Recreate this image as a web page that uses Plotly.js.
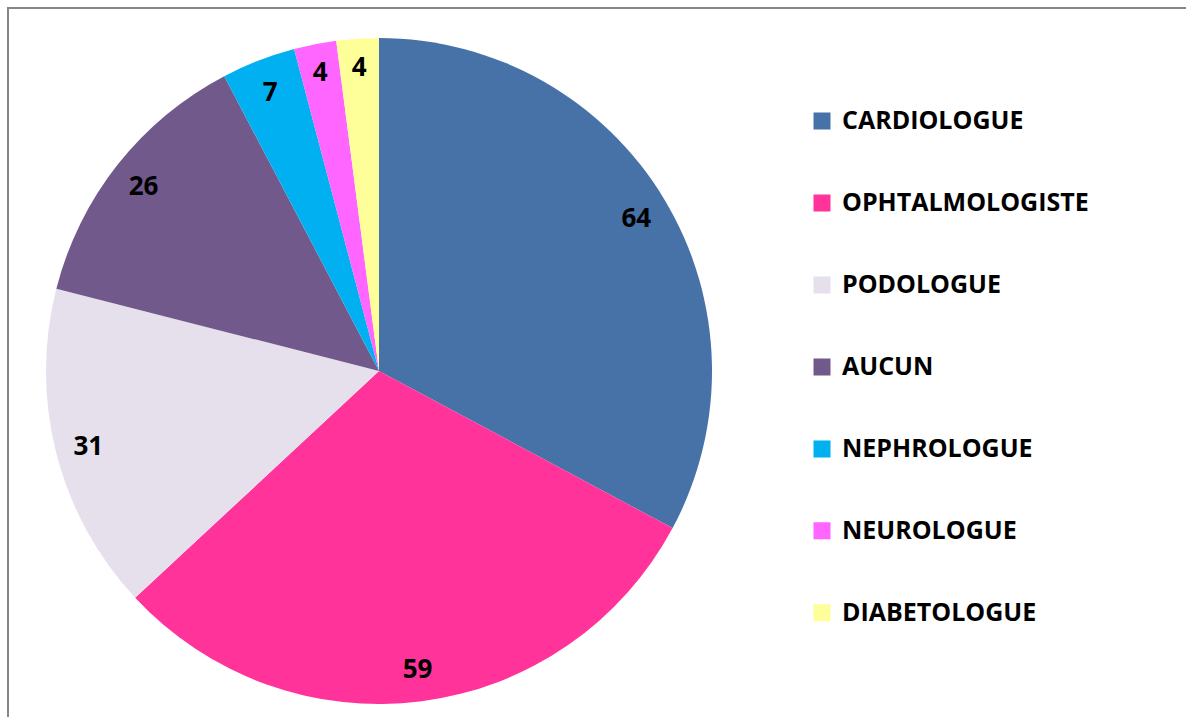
<!DOCTYPE html>
<html>
<head>
<meta charset="utf-8">
<script src="https://cdn.plot.ly/plotly-3.0.1.min.js"></script>
<style>html,body{margin:0;padding:0;background:#fff;}#chart{width:1186px;height:717px;}</style>
</head>
<body>
<div id="chart"></div>
<script>
const categories = ['CARDIOLOGUE', 'OPHTALMOLOGISTE', 'PODOLOGUE', 'AUCUN', 'NEPHROLOGUE', 'NEUROLOGUE', 'DIABETOLOGUE'];
const counts = [64, 59, 31, 26, 7, 4, 4];
const colors = ['#4672A8', '#FF3399', '#E6E0EC', '#72598C', '#00B0F0', '#FF66FF', '#FFFF99'];

const W = 1186, H = 717;
const cx = 379, cy = 371, R = 333, RL = 325;
function dom(r) {
  return {x: [(cx - r) / W, (cx + r) / W], y: [(H - cy - r) / H, (H - cy + r) / H]};
}
const font = {family: 'Open Sans, sans-serif', size: 26, color: '#000', weight: 'bold'};

// legend-only pie: tiny, hidden beneath the main pie
const legendPie = {
  type: 'pie', values: counts,
  labels: categories.map(c => ' <br><span style="font-size:25px">' + c + '</span><br> '),
  sort: false, direction: 'clockwise',
  marker: {colors: colors, line: {color: colors, width: 5}},
  textinfo: 'none', hoverinfo: 'skip', showlegend: true,
  domain: dom(1)
};
// main pie (slices)
const mainPie = {
  type: 'pie', values: counts, labels: categories, sort: false, direction: 'clockwise', rotation: 0,
  marker: {colors: colors, line: {width: 0}},
  textinfo: 'none', showlegend: false, hoverinfo: 'label+value', domain: dom(R)
};
// thin transparent ring on top carrying the value labels near the rim
const labelRing = {
  type: 'pie', values: counts, labels: categories, sort: false, direction: 'clockwise', rotation: 0,
  hole: 0.846,
  marker: {colors: categories.map(() => 'rgba(0,0,0,0)'), line: {width: 0}},
  textinfo: 'value', textposition: 'inside', insidetextorientation: 'horizontal',
  insidetextfont: font, textfont: font,
  showlegend: false, hoverinfo: 'skip', domain: dom(RL)
};

const layout = {
  width: W, height: H,
  margin: {l: 0, r: 0, t: 0, b: 0},
  paper_bgcolor: '#fff',
  showlegend: true,
  legend: {
    x: 802 / W, xanchor: 'left', y: 1 - 75 / H, yanchor: 'top',
    font: {family: 'Open Sans, sans-serif', size: 20.25, color: '#000', weight: 'bold'},
    bgcolor: 'rgba(0,0,0,0)', traceorder: 'normal'
  },
  uniformtext: {mode: 'show', minsize: 26},
  shapes: [{
    type: 'rect', xref: 'paper', yref: 'paper',
    x0: 8 / W, x1: 1.02, y0: -0.02, y1: 1 - 8 / H,
    line: {color: '#868686', width: 2}, fillcolor: 'rgba(0,0,0,0)', layer: 'below'
  }]
};

Plotly.newPlot('chart', [legendPie, mainPie, labelRing], layout, {staticPlot: true, displayModeBar: false});
</script>
</body>
</html>
